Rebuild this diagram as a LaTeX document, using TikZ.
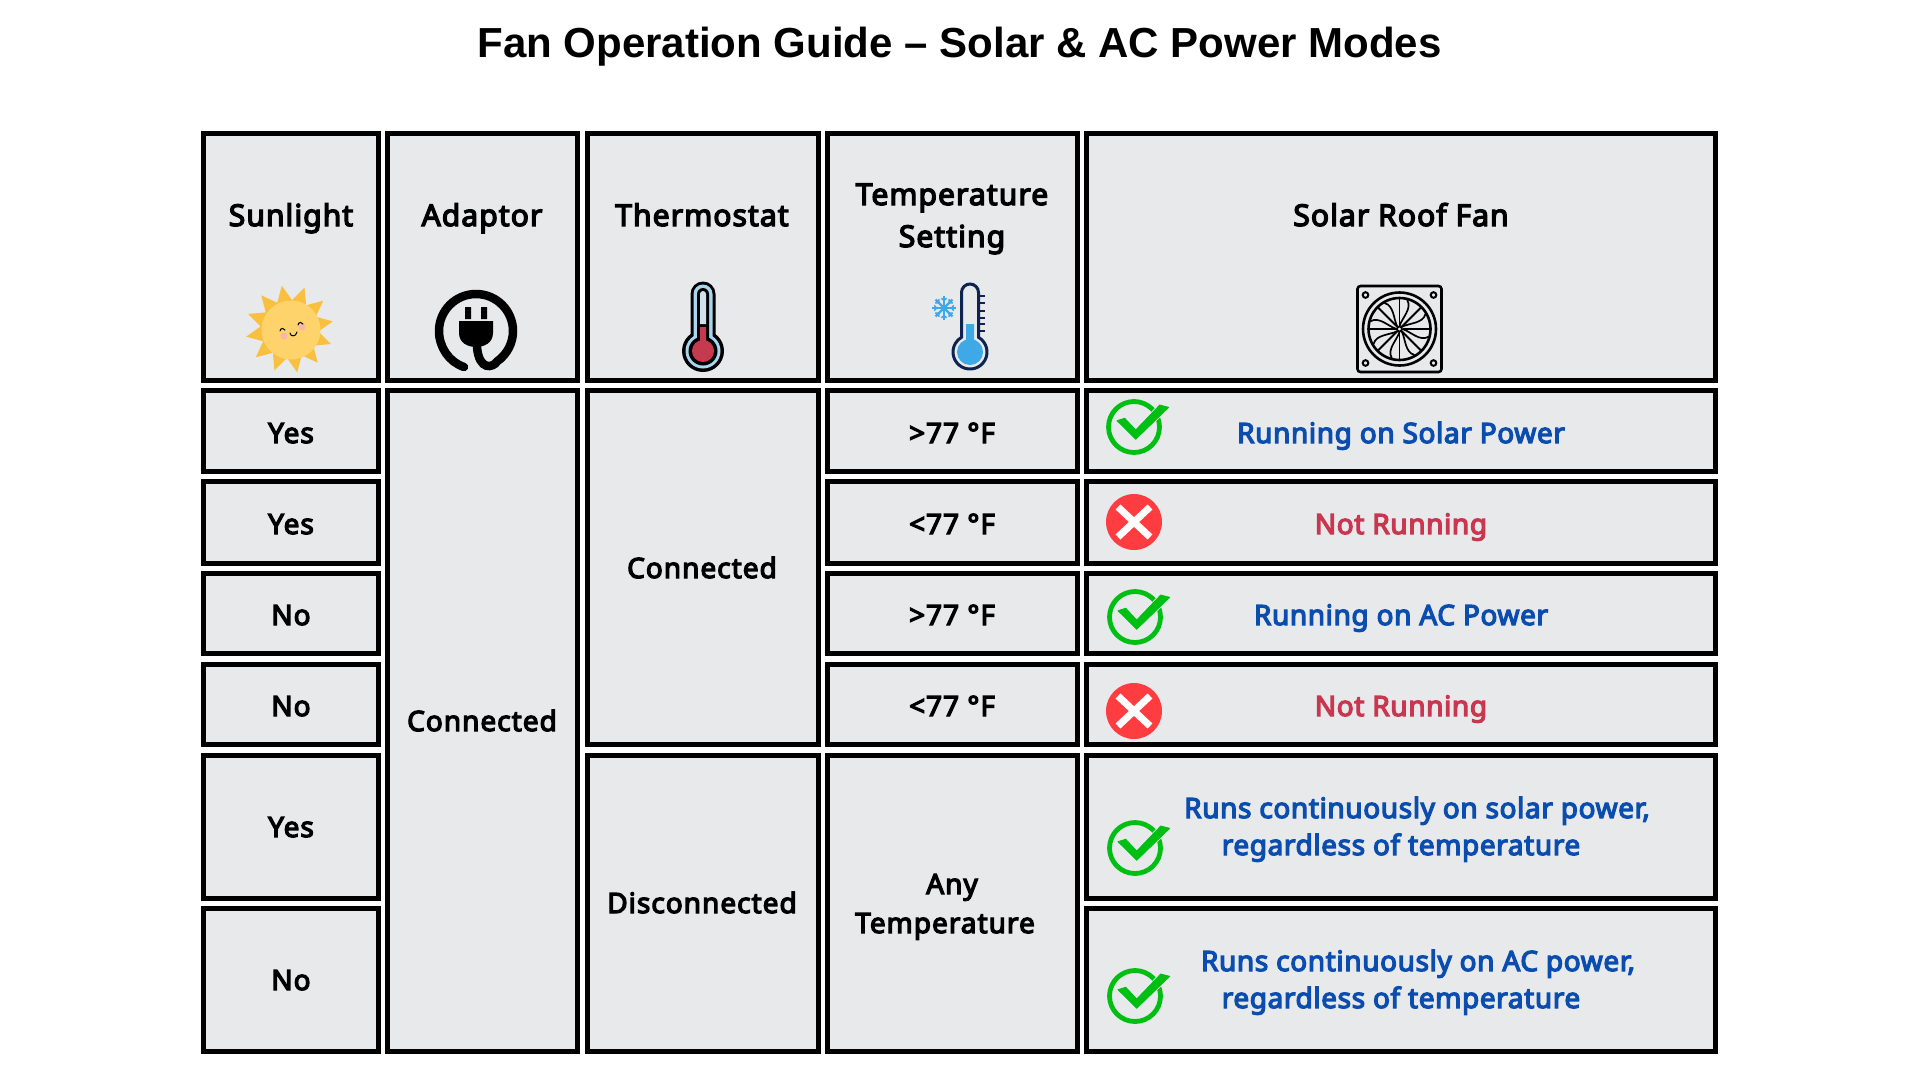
\documentclass[tikz,border=0pt]{standalone}
\usepackage{fontspec}
\setmainfont{Noto Sans}[FakeBold=4.5,LetterSpace=3.6]
\newfontfamily\bluefont{Noto Sans}[FakeBold=4.5,LetterSpace=2.2]
\newfontfamily\titlefont{Liberation Sans}
\definecolor{cellgrey}{HTML}{E8E9EB}
\definecolor{okblue}{HTML}{0A4DAE}
\definecolor{nored}{HTML}{C8374F}
\definecolor{okgreen}{HTML}{00BF13}
\definecolor{xred}{HTML}{FF3D41}
\definecolor{sunray}{HTML}{F9C03F}
\definecolor{sundisc}{HTML}{FFD36B}
\definecolor{cheek}{HTML}{FBB6A8}
\definecolor{therblue}{HTML}{A9D5EF}
\definecolor{therred}{HTML}{C63A50}
\definecolor{navy}{HTML}{0F2350}
\definecolor{iceblue}{HTML}{3FA9E8}
\tikzset{
  cell/.style={draw=black,line width=4.6pt,fill=cellgrey,inner sep=0pt,outer sep=0pt,rectangle},
  lab/.style={anchor=base,inner sep=0pt,font=\fontsize{28}{28}\selectfont,text=black},
  head/.style={lab,font=\fontsize{30}{30}\selectfont},
  okt/.style={lab,font=\bluefont\fontsize{28}{28}\selectfont,text=okblue},
  not/.style={lab,font=\bluefont\fontsize{28}{28}\selectfont,text=nored},
}
\newcommand{\cellbox}[5]{\node[cell,minimum width={#4-#2-4.6pt},minimum height={#5-#3-4.6pt}] (#1) at ({(#2+#4)/2},{(#3+#5)/2}) {};}
\newcommand{\okmark}[2]{\begin{scope}[shift={(#1,#2)}]
  \draw[okgreen,line width=4.8pt] (0,0) circle (25.5);
  \draw[cellgrey,line width=2.5pt,line join=round] (-17,-6.3) -- (-9.3,-8.8) -- (1.7,3) -- (25.7,-22) -- (34.7,-19.7) -- (1.7,12.3) -- cycle;
  \fill[okgreen,draw=okgreen,line width=.8pt,line join=round] (-17,-6.3) -- (-9.3,-8.8) -- (1.7,3) -- (25.7,-22) -- (34.7,-19.7) -- (1.7,12.3) -- cycle;
\end{scope}}
\newcommand{\nomark}[2]{\begin{scope}[shift={(#1,#2)}]
  \fill[xred] (0,0) circle (28);
  \draw[white,line width=7pt] (-16,-15) -- (16,15) (-16,15) -- (16,-15);
\end{scope}}
\begin{document}
\begin{tikzpicture}[x=1pt,y=-1pt]
\useasboundingbox (0,0) rectangle (1920,1080);
\fill[white] (0,0) rectangle (1920,1080);
\node[anchor=base,inner sep=0pt,font=\titlefont\fontsize{42}{42}\selectfont\bfseries] (title) at (959.5,57) {Fan Operation Guide – Solar \& AC Power Modes};
% header
\cellbox{hs}{201}{131}{381}{383}
\cellbox{ha}{385}{131}{580}{383}
\cellbox{ht}{585}{131}{821}{383}
\cellbox{hp}{825}{131}{1080}{383}
\cellbox{hf}{1084}{131}{1718}{383}
% column 1
\cellbox{s1}{201}{388}{381}{474}
\cellbox{s2}{201}{479}{381}{566}
\cellbox{s3}{201}{571}{381}{656}
\cellbox{s4}{201}{662}{381}{747}
\cellbox{s5}{201}{753}{381}{901}
\cellbox{s6}{201}{906}{381}{1054}
% merged
\cellbox{aa}{385}{388}{580}{1054}
\cellbox{t1}{585}{388}{821}{747}
\cellbox{t2}{585}{753}{821}{1054}
% temp
\cellbox{p1}{825}{388}{1080}{474}
\cellbox{p2}{825}{479}{1080}{566}
\cellbox{p3}{825}{571}{1080}{656}
\cellbox{p4}{825}{662}{1080}{747}
\cellbox{p5}{825}{753}{1080}{1054}
% fan
\cellbox{f1}{1084}{388}{1718}{474}
\cellbox{f2}{1084}{479}{1718}{566}
\cellbox{f3}{1084}{571}{1718}{656}
\cellbox{f4}{1084}{662}{1718}{747}
\cellbox{f5}{1084}{753}{1718}{901}
\cellbox{f6}{1084}{906}{1718}{1054}
% header text
\node[head] (lhs) at (291,226) {Sunlight};
\node[head] (lha) at (482,226) {Adaptor};
\node[head] (lht) at (702,226) {Thermostat};
\node[head] (lhp1) at (952,205) {Temperature};
\node[head] (lhp2) at (952,247) {Setting};
\node[head] (lhf) at (1401,226) {Solar Roof Fan};
% row text
\node[lab] (ls1) at (291,443) {Yes};
\node[lab] (ls2) at (291,534) {Yes};
\node[lab] (ls3) at (291,625) {No};
\node[lab] (ls4) at (291,716) {No};
\node[lab] (ls5) at (291,837) {Yes};
\node[lab] (ls6) at (291,990) {No};
\node[lab] (laa) at (482,731) {Connected};
\node[lab] (lt1) at (702,578) {Connected};
\node[lab] (lt2) at (702,913) {Disconnected};
\node[lab] (lp1) at (952,443) {>77 °F};
\node[lab] (lp2) at (952,534) {<77 °F};
\node[lab] (lp3) at (952,625) {>77 °F};
\node[lab] (lp4) at (952,716) {<77 °F};
\node[lab] (lp5a) at (952,894) {Any};
\node[lab] (lp5b) at (945,933) {Temperature};
\node[okt] (lf1) at (1401,443) {Running on Solar Power};
\node[not] (lf2) at (1401,534) {Not Running};
\node[okt] (lf3) at (1401,625) {Running on AC Power};
\node[not] (lf4) at (1401,716) {Not Running};
\node[okt] (lf5a) at (1417,818) {Runs continuously on solar power,};
\node[okt] (lf5b) at (1401,855) {regardless of temperature};
\node[okt] (lf6a) at (1418,971) {Runs continuously on AC power,};
\node[okt] (lf6b) at (1401,1008) {regardless of temperature};
% marks
\okmark{1134}{427}
\nomark{1134}{522}
\okmark{1135}{617}
\nomark{1134}{711}
\okmark{1135}{848}
\okmark{1135}{996}
% sun
\begin{scope}[shift={(291,330)}]
  \begin{scope}[shift={(-1.5,-1)}]
  \fill[sunray,line join=round] (80:44) \foreach \a in {80,50,...,-250} { -- (\a:44) -- (\a-15:29) } -- cycle;
  \end{scope}
  \fill[sundisc] (0,0) circle (29.5);
  \fill[cheek] (-7,6) circle (3.6) (11,-3) circle (3.6);
  \draw[black,line width=1pt,line cap=round] (-11,1) arc (180:340:2.6) (7,-5) arc (180:340:2.6) (-1,3) .. controls (-.5,7) and (5,7) .. (6,2);
\end{scope}
% plug
\begin{scope}[shift={(476,331)}]
  \draw[black,line width=8.5pt,line cap=round] (-12,36) .. controls (-27,31) and (-37,16) .. (-37,0) arc (180:415:37) .. controls (17,37) and (3,40) .. (1,16);
  \fill[black] (-11,-24) rectangle (-5,-12) (5,-24) rectangle (11,-12);
  \fill[black] (-17,-10) -- (17,-10) -- (17,2) .. controls (17,12) and (8,16) .. (0,16) .. controls (-8,16) and (-17,12) .. (-17,2) -- cycle;
\end{scope}
% thermostat
\begin{scope}[shift={(703,351)}]
  \fill[black] (0,0) circle (21) (-12.5,-10) -- (-12.5,-57) arc (180:360:12.5) -- (12.5,-10) -- cycle;
  \fill[therblue] (0,0) circle (17.5) (-9.5,-10) -- (-9.5,-57) arc (180:360:9.5) -- (9.5,-10) -- cycle;
  \fill[black] (0,0) circle (14.5) (-6,-10) -- (-6,-57) arc (180:360:6) -- (6,-10) -- cycle;
  \fill[therred] (0,0) circle (11) (-3,-5) rectangle (3,-24);
  \fill[cellgrey!60!therblue] (-3,-27) -- (-3,-57) arc (180:360:3) -- (3,-27) -- cycle;
\end{scope}
% temperature setting
\begin{scope}[shift={(970,352)}]
  \foreach \y in {-56,-49,-41,-34,-28,-21} \draw[navy,line width=2.6pt] (8.5,\y) -- (15,\y);
  \draw[navy,line width=3pt,fill=cellgrey] (-8.5,-14.7) -- (-8.5,-59.5) arc (180:360:8.5) -- (8.5,-14.7) arc (-60:240:17) -- cycle;
  \fill[iceblue] (0,0) circle (13) (-4,-10) rectangle (4,-28);
\end{scope}
\begin{scope}[shift={(944,308)}]
  \foreach \a in {0,45,...,315} {
    \draw[iceblue,line width=2.2pt] (0,0) -- (\a:12);
    \draw[iceblue,line width=1.5pt] (\a:7.5) -- ++(\a+50:3.5) (\a:7.5) -- ++(\a-50:3.5);
  }
\end{scope}
% fan
\begin{scope}[shift={(1399.5,329)}]
  \draw[black,line width=2.6pt,rounded corners=3pt] (-42,-43) rectangle (42,43);
  \draw[black,line width=2.6pt] (0,0) circle (36.5) (0,0) circle (31);
  \foreach \p/\q in {-34/-34,34/-34,-34/34,34/34} \draw[black,line width=2pt] (\p,\q) circle (2.8);
  \foreach \a in {0,45,...,315} {
    \draw[black,line width=1.9pt] (\a:3) -- (\a:31);
    \draw[black,line width=1.7pt] (\a:3) .. controls (\a+14:12) and (\a+32:24) .. (\a+15:30);
  }
  \fill[cellgrey,draw=black,line width=1.6pt] (0,0) circle (2.4);
\end{scope}
\end{tikzpicture}
\end{document}
